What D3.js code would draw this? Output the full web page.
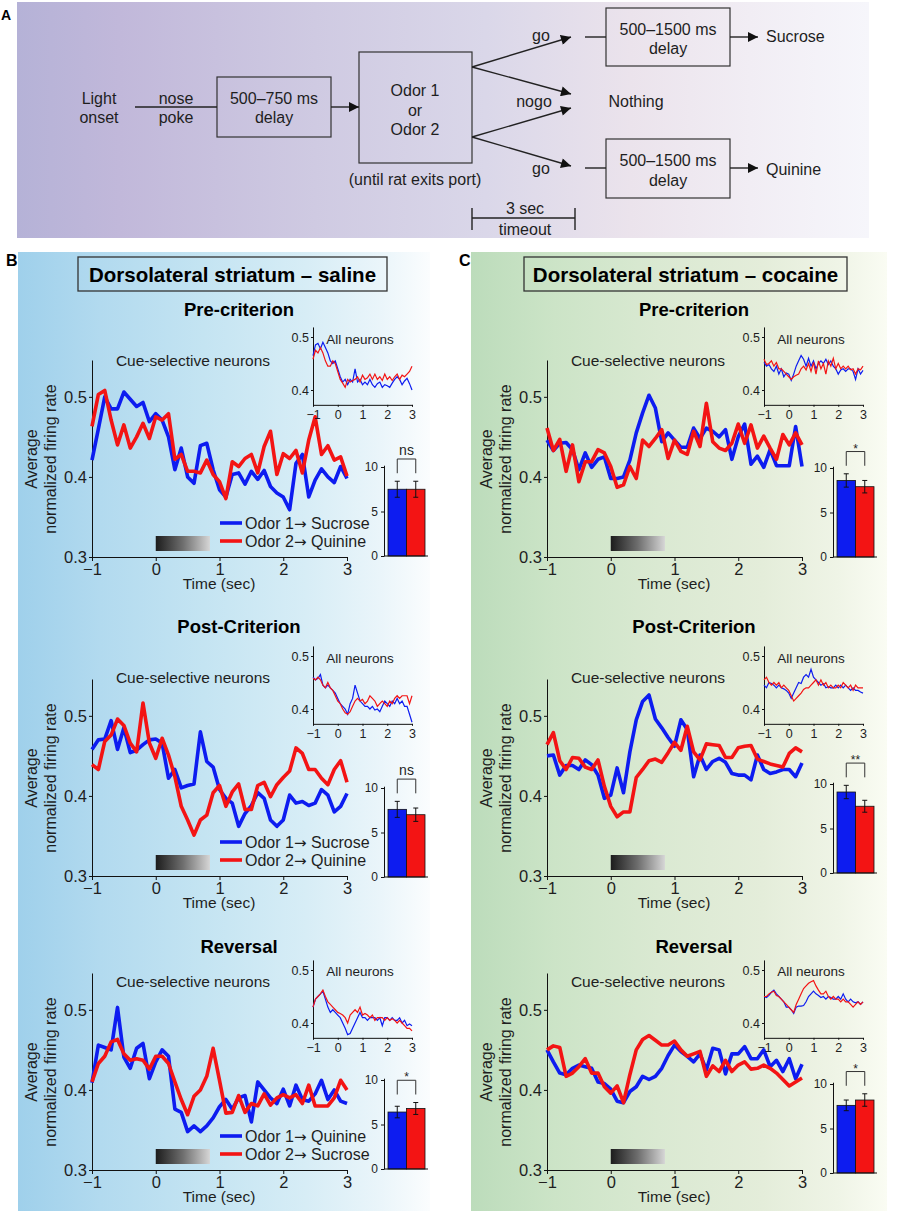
<!DOCTYPE html>
<html>
<head>
<meta charset="utf-8">
<script src="https://cdn.jsdelivr.net/npm/d3@7"></script>
<style>
body { margin: 0; background: #fff; }
svg { display: block; font-family: "Liberation Sans", Arial, sans-serif; }
</style>
</head>
<body>
<svg id="fig" width="901" height="1211"></svg>
<script>
// time bins (sec) shared by every trace
var timeBins = [-1.0, -0.9, -0.8, -0.7, -0.6, -0.5, -0.4, -0.3, -0.2, -0.1,
    0.0, 0.1, 0.2, 0.3, 0.4, 0.5, 0.6, 0.7, 0.8, 0.9,
    1.0, 1.1, 1.2, 1.3, 1.4, 1.5, 1.6, 1.7, 1.8, 1.9,
    2.0, 2.1, 2.2, 2.3, 2.4, 2.5, 2.6, 2.7, 2.8, 2.9, 3.0];

// cue-selective neurons, saline
var salPre1 = [0.421, 0.46, 0.5, 0.485, 0.485, 0.506, 0.497, 0.488, 0.493, 0.469, 0.479, 0.471, 0.45, 0.409, 0.436, 0.4, 0.392, 0.439, 0.442, 0.409, 0.384, 0.375, 0.403, 0.405, 0.391, 0.407, 0.397, 0.408, 0.388, 0.38, 0.375, 0.359, 0.417, 0.428, 0.375, 0.396, 0.41, 0.4, 0.393, 0.413, 0.398];
var salPre2 = [0.463, 0.503, 0.508, 0.471, 0.44, 0.465, 0.436, 0.45, 0.467, 0.448, 0.475, 0.471, 0.479, 0.422, 0.428, 0.407, 0.407, 0.405, 0.421, 0.403, 0.394, 0.373, 0.419, 0.413, 0.423, 0.428, 0.405, 0.438, 0.457, 0.403, 0.429, 0.423, 0.433, 0.405, 0.446, 0.475, 0.428, 0.439, 0.421, 0.425, 0.401];
var salPost1 = [0.458, 0.47, 0.471, 0.494, 0.458, 0.485, 0.454, 0.457, 0.464, 0.47, 0.471, 0.466, 0.422, 0.433, 0.41, 0.413, 0.415, 0.48, 0.443, 0.436, 0.408, 0.397, 0.391, 0.362, 0.378, 0.388, 0.404, 0.397, 0.37, 0.362, 0.37, 0.401, 0.391, 0.393, 0.388, 0.391, 0.408, 0.401, 0.38, 0.387, 0.403];
var salPost2 = [0.439, 0.433, 0.468, 0.476, 0.496, 0.488, 0.466, 0.455, 0.516, 0.466, 0.447, 0.472, 0.451, 0.424, 0.387, 0.37, 0.351, 0.37, 0.376, 0.404, 0.413, 0.387, 0.405, 0.415, 0.383, 0.383, 0.413, 0.417, 0.399, 0.414, 0.423, 0.431, 0.46, 0.453, 0.433, 0.433, 0.422, 0.414, 0.433, 0.444, 0.417];
var salRev1 = [0.409, 0.456, 0.453, 0.45, 0.503, 0.441, 0.427, 0.452, 0.458, 0.414, 0.435, 0.45, 0.442, 0.376, 0.372, 0.348, 0.355, 0.348, 0.355, 0.365, 0.379, 0.388, 0.376, 0.39, 0.393, 0.36, 0.41, 0.4, 0.39, 0.383, 0.401, 0.38, 0.406, 0.388, 0.386, 0.395, 0.412, 0.388, 0.4, 0.386, 0.383];
var salRev2 = [0.41, 0.433, 0.442, 0.46, 0.463, 0.445, 0.437, 0.439, 0.437, 0.426, 0.442, 0.442, 0.433, 0.41, 0.388, 0.369, 0.392, 0.4, 0.417, 0.452, 0.412, 0.371, 0.372, 0.393, 0.372, 0.383, 0.38, 0.395, 0.381, 0.39, 0.394, 0.39, 0.394, 0.383, 0.406, 0.38, 0.38, 0.38, 0.39, 0.412, 0.4];

// cue-selective neurons, cocaine
var cocPre1 = [0.446, 0.433, 0.442, 0.443, 0.434, 0.409, 0.43, 0.412, 0.422, 0.425, 0.398, 0.398, 0.4, 0.421, 0.455, 0.48, 0.502, 0.486, 0.444, 0.455, 0.446, 0.437, 0.437, 0.461, 0.448, 0.461, 0.457, 0.45, 0.459, 0.422, 0.45, 0.466, 0.416, 0.426, 0.412, 0.434, 0.414, 0.414, 0.414, 0.463, 0.413];
var cocPre2 = [0.461, 0.433, 0.447, 0.407, 0.44, 0.394, 0.419, 0.419, 0.434, 0.43, 0.413, 0.387, 0.39, 0.413, 0.398, 0.446, 0.438, 0.448, 0.459, 0.423, 0.446, 0.432, 0.428, 0.457, 0.438, 0.492, 0.444, 0.436, 0.433, 0.442, 0.466, 0.442, 0.465, 0.436, 0.451, 0.436, 0.422, 0.453, 0.44, 0.455, 0.44];
var cocPost1 = [0.45, 0.451, 0.426, 0.438, 0.438, 0.433, 0.445, 0.439, 0.426, 0.397, 0.401, 0.435, 0.404, 0.455, 0.495, 0.518, 0.526, 0.496, 0.485, 0.473, 0.462, 0.495, 0.483, 0.424, 0.451, 0.433, 0.443, 0.447, 0.442, 0.428, 0.426, 0.426, 0.42, 0.451, 0.433, 0.428, 0.43, 0.433, 0.433, 0.424, 0.441];
var cocPost2 = [0.464, 0.479, 0.444, 0.433, 0.448, 0.447, 0.436, 0.433, 0.445, 0.412, 0.387, 0.374, 0.38, 0.38, 0.423, 0.433, 0.444, 0.446, 0.442, 0.454, 0.467, 0.457, 0.487, 0.455, 0.445, 0.465, 0.464, 0.463, 0.448, 0.448, 0.46, 0.462, 0.463, 0.446, 0.443, 0.44, 0.438, 0.436, 0.453, 0.46, 0.455];
var cocRev1 = [0.45, 0.435, 0.421, 0.419, 0.427, 0.431, 0.429, 0.427, 0.41, 0.408, 0.401, 0.386, 0.384, 0.398, 0.404, 0.417, 0.413, 0.417, 0.427, 0.443, 0.456, 0.448, 0.442, 0.435, 0.445, 0.425, 0.452, 0.45, 0.42, 0.445, 0.445, 0.454, 0.439, 0.439, 0.45, 0.429, 0.437, 0.423, 0.439, 0.414, 0.432];
var cocRev2 = [0.45, 0.455, 0.453, 0.417, 0.421, 0.429, 0.439, 0.421, 0.421, 0.404, 0.396, 0.405, 0.384, 0.419, 0.45, 0.463, 0.468, 0.462, 0.456, 0.456, 0.461, 0.45, 0.442, 0.445, 0.448, 0.417, 0.43, 0.423, 0.437, 0.423, 0.431, 0.435, 0.426, 0.427, 0.431, 0.427, 0.421, 0.413, 0.405, 0.41, 0.415];

// all neurons (insets)
var salPreAll1 = [0.465, 0.485, 0.488, 0.478, 0.49, 0.48, 0.47, 0.455, 0.45, 0.455, 0.44, 0.425, 0.415, 0.42, 0.41, 0.42, 0.415, 0.44, 0.415, 0.42, 0.41, 0.415, 0.41, 0.42, 0.41, 0.405, 0.412, 0.415, 0.405, 0.41, 0.408, 0.405, 0.413, 0.42, 0.425, 0.42, 0.41, 0.417, 0.422, 0.412, 0.4];
var salPreAll2 = [0.458, 0.475, 0.47, 0.48, 0.47, 0.455, 0.445, 0.445, 0.455, 0.45, 0.435, 0.42, 0.413, 0.405, 0.42, 0.415, 0.418, 0.42, 0.425, 0.415, 0.428, 0.42, 0.423, 0.43, 0.42, 0.43, 0.42, 0.425, 0.418, 0.43, 0.42, 0.425, 0.418, 0.425, 0.43, 0.42, 0.428, 0.425, 0.43, 0.435, 0.445];
var salPostAll1 = [0.46, 0.455, 0.458, 0.465, 0.445, 0.44, 0.445, 0.44, 0.435, 0.43, 0.42, 0.41, 0.405, 0.4, 0.39, 0.41, 0.42, 0.445, 0.43, 0.415, 0.41, 0.405, 0.405, 0.4, 0.405, 0.398, 0.4, 0.395, 0.405, 0.415, 0.41, 0.405, 0.415, 0.41, 0.42, 0.41, 0.415, 0.405, 0.405, 0.39, 0.375];
var salPostAll2 = [0.458, 0.455, 0.46, 0.455, 0.445, 0.44, 0.45, 0.44, 0.435, 0.425, 0.415, 0.41, 0.4, 0.393, 0.39, 0.395, 0.405, 0.415, 0.42, 0.415, 0.418, 0.41, 0.415, 0.425, 0.42, 0.415, 0.405, 0.41, 0.415, 0.41, 0.405, 0.415, 0.41, 0.42, 0.425, 0.42, 0.425, 0.425, 0.425, 0.41, 0.425];
var salRevAll1 = [0.43, 0.445, 0.45, 0.455, 0.46, 0.445, 0.43, 0.42, 0.425, 0.42, 0.415, 0.41, 0.4, 0.39, 0.378, 0.38, 0.39, 0.4, 0.41, 0.42, 0.41, 0.41, 0.405, 0.41, 0.41, 0.41, 0.405, 0.41, 0.395, 0.41, 0.41, 0.405, 0.41, 0.405, 0.405, 0.41, 0.4, 0.405, 0.395, 0.398, 0.395];
var salRevAll2 = [0.43, 0.445, 0.45, 0.455, 0.462, 0.45, 0.44, 0.435, 0.43, 0.425, 0.42, 0.418, 0.415, 0.41, 0.4, 0.415, 0.42, 0.425, 0.42, 0.43, 0.415, 0.418, 0.415, 0.41, 0.415, 0.405, 0.41, 0.41, 0.41, 0.405, 0.41, 0.405, 0.408, 0.405, 0.4, 0.405, 0.4, 0.395, 0.39, 0.39, 0.385];
var cocPreAll1 = [0.452, 0.445, 0.448, 0.44, 0.435, 0.445, 0.43, 0.44, 0.425, 0.432, 0.43, 0.418, 0.43, 0.445, 0.455, 0.465, 0.458, 0.445, 0.46, 0.445, 0.455, 0.44, 0.45, 0.455, 0.45, 0.458, 0.448, 0.455, 0.445, 0.44, 0.43, 0.438, 0.44, 0.435, 0.44, 0.44, 0.435, 0.42, 0.44, 0.43, 0.437];
var cocPreAll2 = [0.458, 0.448, 0.45, 0.455, 0.445, 0.452, 0.44, 0.44, 0.435, 0.43, 0.425, 0.42, 0.425, 0.428, 0.43, 0.44, 0.445, 0.438, 0.45, 0.435, 0.452, 0.43, 0.455, 0.44, 0.45, 0.43, 0.455, 0.445, 0.46, 0.44, 0.45, 0.44, 0.445, 0.44, 0.445, 0.438, 0.44, 0.43, 0.44, 0.438, 0.445];
var cocPostAll1 = [0.445, 0.44, 0.45, 0.448, 0.445, 0.44, 0.445, 0.44, 0.438, 0.435, 0.43, 0.42, 0.43, 0.44, 0.45, 0.448, 0.46, 0.465, 0.46, 0.475, 0.46, 0.455, 0.45, 0.445, 0.448, 0.44, 0.442, 0.44, 0.44, 0.445, 0.44, 0.445, 0.44, 0.445, 0.44, 0.435, 0.44, 0.435, 0.435, 0.432, 0.43];
var cocPostAll2 = [0.455, 0.46, 0.45, 0.445, 0.45, 0.445, 0.45, 0.44, 0.445, 0.44, 0.435, 0.425, 0.415, 0.42, 0.425, 0.43, 0.437, 0.44, 0.44, 0.445, 0.45, 0.455, 0.445, 0.455, 0.445, 0.45, 0.44, 0.445, 0.44, 0.44, 0.445, 0.44, 0.45, 0.445, 0.44, 0.445, 0.435, 0.445, 0.44, 0.44, 0.44];
var cocRevAll1 = [0.45, 0.448, 0.452, 0.458, 0.462, 0.455, 0.45, 0.445, 0.44, 0.43, 0.43, 0.425, 0.418, 0.43, 0.432, 0.432, 0.433, 0.44, 0.45, 0.455, 0.46, 0.455, 0.452, 0.448, 0.45, 0.445, 0.45, 0.448, 0.445, 0.445, 0.45, 0.445, 0.455, 0.445, 0.44, 0.445, 0.44, 0.438, 0.44, 0.435, 0.44];
var cocRevAll2 = [0.45, 0.45, 0.455, 0.458, 0.46, 0.452, 0.45, 0.445, 0.44, 0.435, 0.43, 0.425, 0.42, 0.435, 0.445, 0.455, 0.465, 0.47, 0.475, 0.478, 0.48, 0.47, 0.462, 0.455, 0.455, 0.46, 0.45, 0.445, 0.45, 0.445, 0.445, 0.44, 0.445, 0.44, 0.44, 0.435, 0.43, 0.435, 0.44, 0.435, 0.44];

// bar insets: saline pre, post, reversal, cocaine pre, post, reversal
var barOdor1 = [7.5, 7.6, 6.4, 8.6, 9.1, 7.6];
var barOdor2 = [7.5, 7.0, 6.8, 7.9, 7.5, 8.2];
var barErr1 = [0.9, 0.9, 0.65, 0.75, 0.75, 0.6];
var barErr2 = [0.9, 0.75, 0.67, 0.7, 0.67, 0.7];
var barSig = ["ns", "ns", "*", "*", "**", "*"];

var groupTitles = ["Dorsolateral striatum \u2013 saline", "Dorsolateral striatum \u2013 cocaine"];
var phaseNames = ["Pre-criterion", "Post-Criterion", "Reversal"];
// legend entries: [odor, outcome]
var legendNames = [[["Odor 1", "Sucrose"], ["Odor 2", "Quinine"]],
    [["Odor 1", "Sucrose"], ["Odor 2", "Quinine"]],
    [["Odor 1", "Quinine"], ["Odor 2", "Sucrose"]]];
var mainTicksX = [-1, 0, 1, 2, 3];
var mainTicksY = [0.3, 0.4, 0.5];
var insetTicksY = [0.4, 0.5];
var barTicks = [0, 5, 10];
var cueWindow = [0, 0.85];

var blue = "#0d1cf0", red = "#f31414", ink = "#1e1e1e";

var svg = d3.select("#fig");
var defs = svg.append("defs");

function hGrad(id, stops) {
    var g = defs.append("linearGradient").attr("id", id)
        .attr("x1", 0).attr("x2", 1).attr("y1", 0).attr("y2", 0);
    stops.forEach(function (s) {
        g.append("stop").attr("offset", s[0]).attr("stop-color", s[1]);
    });
}
hGrad("bgA", [[0, "#b5b2d7"], [0.12, "#c1b8da"], [0.35, "#cfcae2"], [0.55, "#dad7e9"], [0.72, "#ebe3ec"], [0.86, "#f1edf4"], [1, "#f6f6fb"]]);
hGrad("bgB", [[0, "#9fd0eb"], [0.2, "#b2daef"], [0.45, "#c4e4f2"], [0.7, "#d7edf6"], [0.88, "#eaf5fa"], [1, "#fbfdfe"]]);
hGrad("bgC", [[0, "#bcdcbb"], [0.2, "#cce4c7"], [0.45, "#dae9d2"], [0.7, "#e4edda"], [0.88, "#eff4e6"], [1, "#fafcf3"]]);
hGrad("cueGrad", [[0, "#1c1c1c"], [0.5, "#6e6e6e"], [1, "#d6d6d6"]]);

defs.append("marker").attr("id", "arrow")
    .attr("viewBox", "0 0 10 10").attr("refX", 10).attr("refY", 5)
    .attr("markerUnits", "userSpaceOnUse")
    .attr("markerWidth", 11).attr("markerHeight", 10)
    .attr("orient", "auto")
    .append("path").attr("d", "M0,0 L10,5 L0,10 z").attr("fill", "#111");

svg.append("rect").attr("width", 901).attr("height", 1211).attr("fill", "#fff");
svg.append("rect").attr("x", 17).attr("y", 2).attr("width", 852).attr("height", 236).attr("fill", "url(#bgA)");
svg.append("rect").attr("x", 18).attr("y", 252).attr("width", 412).attr("height", 959).attr("fill", "url(#bgB)");
svg.append("rect").attr("x", 471).attr("y", 252).attr("width", 416).attr("height", 959).attr("fill", "url(#bgC)");

function label(g, x, y, txt, size, opts) {
    opts = opts || {};
    return g.append("text").attr("x", x).attr("y", y).attr("dy", "0.35em")
        .attr("text-anchor", opts.anchor || "middle")
        .attr("font-size", size)
        .attr("font-weight", opts.bold ? "bold" : null)
        .attr("fill", opts.fill || ink)
        .text(txt);
}

// ---------- panel A: task diagram ----------
var gA = svg.append("g");
label(gA, 6, 15, "A", 14, {bold: true, fill: "#000"});
[[217, 77, 114, 60], [359, 52, 113, 111], [606, 8, 124, 58], [606, 139, 124, 59]].forEach(function (b) {
    gA.append("rect").attr("x", b[0]).attr("y", b[1]).attr("width", b[2]).attr("height", b[3])
        .attr("fill", "none").attr("stroke", "#333").attr("stroke-width", 1.2);
});
function seg(x1, y1, x2, y2, head) {
    gA.append("line").attr("x1", x1).attr("y1", y1).attr("x2", x2).attr("y2", y2)
        .attr("stroke", "#222").attr("stroke-width", 1.4)
        .attr("marker-end", head ? "url(#arrow)" : null);
}
seg(135, 107, 217, 107, false);
seg(331, 107, 359, 107, true);
seg(472, 67, 571, 37, true);
seg(472, 67, 571, 94, true);
seg(472, 137, 571, 108, true);
seg(472, 137, 571, 166, true);
seg(585, 37, 606, 37, false);
seg(730, 37, 758, 37, true);
seg(585, 168, 606, 168, false);
seg(730, 168, 758, 168, true);
seg(472, 218, 575, 218, false);
seg(472, 208, 472, 230, false);
seg(575, 208, 575, 230, false);

var tA = 16;
label(gA, 99, 98, "Light", tA); label(gA, 99, 117, "onset", tA);
label(gA, 176, 98, "nose", tA); label(gA, 176, 117, "poke", tA);
label(gA, 274, 98, "500\u2013750 ms", tA); label(gA, 274, 117, "delay", tA);
label(gA, 415, 90, "Odor 1", tA); label(gA, 415, 110, "or", tA); label(gA, 415, 129, "Odor 2", tA);
label(gA, 415, 179, "(until rat exits port)", tA);
label(gA, 541, 35, "go", tA); label(gA, 534, 101, "nogo", tA); label(gA, 541, 168, "go", tA);
label(gA, 636, 101, "Nothing", tA);
label(gA, 668, 29, "500\u20131500 ms", tA); label(gA, 668, 48, "delay", tA);
label(gA, 668, 160, "500\u20131500 ms", tA); label(gA, 668, 180, "delay", tA);
label(gA, 766, 36, "Sucrose", tA, {anchor: "start"});
label(gA, 766, 169, "Quinine", tA, {anchor: "start"});
label(gA, 525, 208, "3 sec", tA); label(gA, 525, 229, "timeout", tA);

// ---------- panels B and C ----------
var rowBase = [557, 876, 1170];      // y of 0.3 on main axes
var rowTitle = [310, 627, 947];
var rowCue = [361, 678, 982];
var rowInset = [390, 709, 1023];     // y of 0.4 on inset axes
var rowAll = [339, 658, 971];

var columns = [
    {letter: "B", lx: 6, box: [78, 257, 309, 34], x0: 92, ix0: 313, bx0: 384, bar0: [556, 877, 1169], legend: true,
        cue: [[salPre1, salPre2], [salPost1, salPost2], [salRev1, salRev2]],
        all: [[salPreAll1, salPreAll2], [salPostAll1, salPostAll2], [salRevAll1, salRevAll2]]},
    {letter: "C", lx: 459, box: [524, 257, 323, 34], x0: 547, ix0: 764, bx0: 833, bar0: [557, 873, 1173], legend: false,
        cue: [[cocPre1, cocPre2], [cocPost1, cocPost2], [cocRev1, cocRev2]],
        all: [[cocPreAll1, cocPreAll2], [cocPostAll1, cocPostAll2], [cocRevAll1, cocRevAll2]]}
];

function styleAxis(g, fs) {
    g.attr("font-size", fs).attr("font-family", null);
    g.select(".domain").attr("stroke", "#111").attr("stroke-width", 1);
    g.selectAll(".tick line").attr("stroke", "#111");
    g.selectAll(".tick text").attr("fill", ink);
}

columns.forEach(function (c, ci) {
    var g = svg.append("g");
    label(g, c.lx, 260, c.letter, 16, {bold: true, anchor: "start", fill: "#000"});
    g.append("rect").attr("x", c.box[0]).attr("y", c.box[1]).attr("width", c.box[2]).attr("height", c.box[3])
        .attr("fill", "none").attr("stroke", "#333").attr("stroke-width", 1.3);
    label(g, c.box[0] + c.box[2] / 2, c.box[1] + c.box[3] / 2 + 1, groupTitles[ci], 20.5, {bold: true, fill: "#000"});

    phaseNames.forEach(function (ph, ri) {
        var base = rowBase[ri];
        var x = d3.scaleLinear().domain([-1, 3]).range([c.x0, c.x0 + 255]);
        var y = d3.scaleLinear().domain([0.3, 0.546]).range([base, base - 197]);

        label(g, c.x0 + 147, rowTitle[ri], ph, 18.5, {bold: true, fill: "#000"});
        label(g, c.x0 + 101, rowCue[ri], "Cue-selective neurons", 15.5);

        // cue period bar
        g.append("rect").attr("x", x(cueWindow[0])).attr("width", x(cueWindow[1]) - x(cueWindow[0]))
            .attr("y", base - 21).attr("height", 15).attr("fill", "url(#cueGrad)");

        var ax = g.append("g").attr("transform", "translate(0," + base + ")")
            .call(d3.axisBottom(x).tickValues(mainTicksX).tickFormat(d3.format("d"))
                .tickSize(4).tickPadding(2).tickSizeOuter(0));
        styleAxis(ax, 16.5);
        var ay = g.append("g").attr("transform", "translate(" + c.x0 + ",0)")
            .call(d3.axisLeft(y).tickValues(mainTicksY).tickFormat(d3.format(".1f"))
                .tickSize(3).tickPadding(2).tickSizeOuter(0));
        styleAxis(ay, 16.5);

        label(g, c.x0 + 127, base + 27, "Time (sec)", 15.5);
        var yl = g.append("g").attr("transform", "translate(" + (c.x0 - 61) + "," + (base - 98) + ") rotate(-90)");
        label(yl, 0, 0, "Average", 16);
        var yl2 = g.append("g").attr("transform", "translate(" + (c.x0 - 42) + "," + (base - 98) + ") rotate(-90)");
        label(yl2, 0, 0, "normalized firing rate", 16);

        var line = d3.line().x(function (d, i) { return x(timeBins[i]); }).y(function (d) { return y(d); });
        [blue, red].forEach(function (col, si) {
            g.append("path").datum(c.cue[ri][si]).attr("d", line)
                .attr("fill", "none").attr("stroke", col).attr("stroke-width", 3.6)
                .attr("stroke-linejoin", "round");
        });

        if (c.legend) {
            [blue, red].forEach(function (col, si) {
                var ly = base - 34 + si * 18;
                g.append("line").attr("x1", c.x0 + 128).attr("x2", c.x0 + 150)
                    .attr("y1", ly).attr("y2", ly).attr("stroke", col).attr("stroke-width", 3.6);
                var t = label(g, c.x0 + 153, ly, null, 16, {anchor: "start"});
                var parts = legendNames[ri][si];
                t.append("tspan").text(parts[0]);
                t.append("tspan").attr("font-family", "DejaVu Sans").attr("font-size", 15).text("\u2192");
                t.append("tspan").text(" " + parts[1]);
            });
        }

        // inset: all neurons
        var y04 = rowInset[ri];
        var xi = d3.scaleLinear().domain([-1, 3]).range([c.ix0, c.ix0 + 99]);
        var yi = d3.scaleLinear().domain([0.372, 0.519]).range([y04 + 0.028 * 530, y04 - 0.119 * 530]);
        var ix = g.append("g").attr("transform", "translate(0," + yi(0.372) + ")")
            .call(d3.axisBottom(xi).tickValues(mainTicksX).tickFormat(d3.format("d"))
                .tickSize(2).tickPadding(3).tickSizeOuter(0));
        styleAxis(ix, 12.5);
        var iy = g.append("g").attr("transform", "translate(" + c.ix0 + ",0)")
            .call(d3.axisLeft(yi).tickValues(insetTicksY).tickFormat(d3.format(".1f"))
                .tickSize(2).tickPadding(2).tickSizeOuter(0));
        styleAxis(iy, 12.5);
        label(g, c.ix0 + 47, rowAll[ri], "All neurons", 13.5);
        var iline = d3.line().x(function (d, i) { return xi(timeBins[i]); }).y(function (d) { return yi(d); });
        [blue, red].forEach(function (col, si) {
            g.append("path").datum(c.all[ri][si]).attr("d", iline)
                .attr("fill", "none").attr("stroke", col).attr("stroke-width", 1.2);
        });

        // inset: bar graph
        var bi = ci * 3 + ri;
        var y0 = c.bar0[ri];
        var yb = d3.scaleLinear().domain([0, 10.2]).range([y0, y0 - 89 * 1.02]);
        var xb = d3.scaleBand().domain(["odor1", "odor2"]).range([c.bx0 + 4, c.bx0 + 41]).padding(0);
        var bars = [
            {k: "odor1", v: barOdor1[bi], e: barErr1[bi], col: blue},
            {k: "odor2", v: barOdor2[bi], e: barErr2[bi], col: red}
        ];
        g.selectAll(null).data(bars).enter().append("rect")
            .attr("x", function (d) { return xb(d.k); })
            .attr("width", xb.bandwidth())
            .attr("y", function (d) { return yb(d.v); })
            .attr("height", function (d) { return y0 - yb(d.v); })
            .attr("fill", function (d) { return d.col; })
            .attr("stroke", "#111").attr("stroke-width", 0.8);
        bars.forEach(function (d) {
            var cx = xb(d.k) + xb.bandwidth() / 2;
            g.append("path")
                .attr("d", "M" + cx + "," + yb(d.v - d.e) + "V" + yb(d.v + d.e) +
                    "M" + (cx - 2.5) + "," + yb(d.v + d.e) + "H" + (cx + 2.5) +
                    "M" + (cx - 2.5) + "," + yb(d.v - d.e) + "H" + (cx + 2.5))
                .attr("stroke", "#111").attr("stroke-width", 1).attr("fill", "none");
        });
        var by = g.append("g").attr("transform", "translate(" + c.bx0 + ",0)")
            .call(d3.axisLeft(yb).tickValues(barTicks).tickSize(3).tickPadding(3).tickSizeOuter(0));
        styleAxis(by, 12);
        g.append("line").attr("x1", c.bx0).attr("x2", c.bx0 + 44).attr("y1", y0).attr("y2", y0)
            .attr("stroke", "#111").attr("stroke-width", 1);

        var top = Math.max(bars[0].v + bars[0].e, bars[1].v + bars[1].e);
        var lo = yb(top + 0.9), hi = yb(top + 2.5);
        var cx1 = xb("odor1") + xb.bandwidth() / 2, cx2 = xb("odor2") + xb.bandwidth() / 2;
        g.append("path").attr("d", "M" + cx1 + "," + lo + "V" + hi + "H" + cx2 + "V" + lo)
            .attr("fill", "none").attr("stroke", "#333").attr("stroke-width", 1);
        if (barSig[bi] === "ns") {
            label(g, (cx1 + cx2) / 2, hi - 9, "ns", 14);
        } else {
            g.append("text").attr("x", (cx1 + cx2) / 2).attr("y", hi + 1)
                .attr("text-anchor", "middle").attr("font-size", 12).attr("fill", ink)
                .text(barSig[bi]);
        }
    });
});
</script>
</body>
</html>
